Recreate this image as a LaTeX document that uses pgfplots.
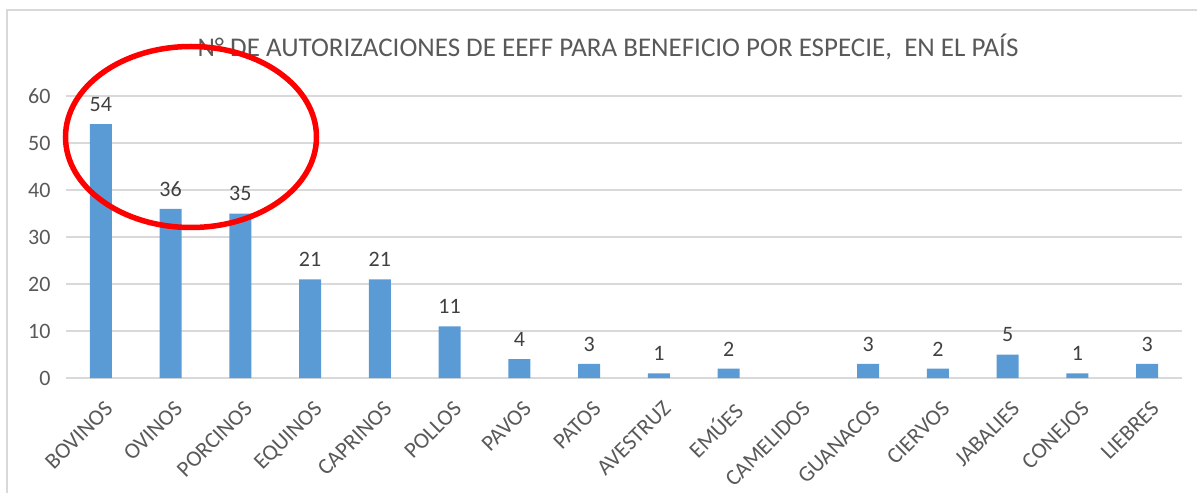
\documentclass[border=0pt]{standalone}
\usepackage{fontspec}
\setmainfont{Carlito}
\usepackage{pgfplots}
\pgfplotsset{compat=1.18}
\definecolor{barblue}{HTML}{5B9BD5}
\definecolor{gridgray}{HTML}{D9D9D9}
\definecolor{txtgray}{HTML}{595959}
\definecolor{lblgray}{HTML}{404040}
\begin{document}
\begin{tikzpicture}[x=1pt,y=1pt]
\path[use as bounding box] (0,0) rectangle (1197,493);
\draw[gridgray, line width=1.5pt] (7,0) -- (7,483) -- (1197,483);
\node[txtgray, font=\fontsize{27}{32}\selectfont] at (608,446) {N° DE AUTORIZACIONES DE EEFF PARA BENEFICIO POR ESPECIE,\ \ EN EL PAÍS};
\begin{axis}[
  at={(66pt,115pt)}, anchor=south west,
  scale only axis, width=1116pt, height=282pt,
  xmin=-0.5, xmax=15.5, ymin=0, ymax=60,
  ytick={0,10,...,60},
  xtick={0,...,15},
  xticklabels={BOVINOS,OVINOS,PORCINOS,EQUINOS,CAPRINOS,POLLOS,PAVOS,PATOS,AVESTRUZ,EMÚES,CAMELIDOS,GUANACOS,CIERVOS,JABALIES,CONEJOS,LIEBRES},
  ymajorgrids, grid style={gridgray, line width=1.3pt},
  axis line style={draw=none},
  major tick length=0pt,
  clip=false,
  /pgf/number format/assume math mode=true,
  yticklabel style={font=\fontsize{22}{26}\selectfont, text=txtgray, anchor=east, xshift=-12pt},
  xticklabel style={font=\fontsize{22.5}{26}\selectfont, text=txtgray, rotate=45, anchor=north east, yshift=-14pt, xshift=-10pt},
  ybar, bar width=22pt,
  nodes near coords,
  every node near coord/.append style={font=\fontsize{22}{26}\selectfont, text=lblgray, yshift=9pt},
]
\addplot[fill=barblue, draw=none] coordinates {
(0,54) (1,36) (2,35) (3,21) (4,21) (5,11) (6,4) (7,3) (8,1) (9,2)
(11,3) (12,2) (13,5) (14,1) (15,3)};
\end{axis}
\draw[red, line width=5.5pt] (191,356) ellipse [x radius=125.5, y radius=90.5];
\end{tikzpicture}
\end{document}
